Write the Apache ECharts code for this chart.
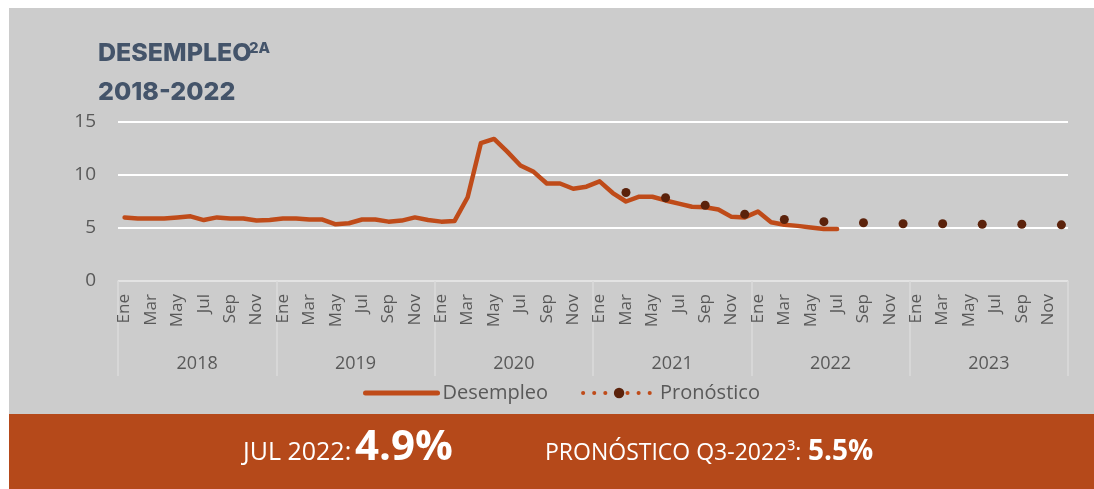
<!DOCTYPE html>
<html lang="es">
<head>
<meta charset="UTF-8">
<title>Desempleo</title>
<script src="https://cdn.jsdelivr.net/npm/echarts@6/dist/echarts.min.js"></script>
<style>
    html, body { margin: 0; padding: 0; background: #fff; }
    #grafica { position: absolute; left: 9px; top: 8px; width: 1085px; height: 481px; }
</style>
</head>
<body>
<div id="grafica"></div>
<script>
    // ejes
    const meses = ['Ene', 'Feb', 'Mar', 'Abr', 'May', 'Jun', 'Jul', 'Ago', 'Sep', 'Oct', 'Nov', 'Dic'];
    const anios = ['2018', '2019', '2020', '2021', '2022', '2023'];

    // tasa de desempleo mensual (%), ene 2018 - jul 2022
    const desempleo = [
        6.0, 5.9, 5.9, 5.9, 6.0, 6.1, 5.75, 6.0, 5.9, 5.9, 5.7, 5.75,
        5.9, 5.9, 5.8, 5.8, 5.35, 5.45, 5.8, 5.8, 5.6, 5.7, 6.0, 5.75,
        5.6, 5.65, 7.9, 13.0, 13.4, 12.2, 10.9, 10.3, 9.2, 9.2, 8.7, 8.9,
        9.4, 8.3, 7.5, 7.95, 7.95, 7.6, 7.3, 7.0, 6.95, 6.75, 6.05, 6.0,
        6.55, 5.55, 5.3, 5.2, 5.05, 4.9, 4.9
    ];

    // pronóstico trimestral
    const pronosticoFechas = ['Mar-2021', 'Jun-2021', 'Sep-2021', 'Dic-2021', 'Mar-2022', 'Jun-2022',
        'Sep-2022', 'Dic-2022', 'Mar-2023', 'Jun-2023', 'Sep-2023', 'Dic-2023'];
    const pronosticoValores = [8.35, 7.85, 7.15, 6.3, 5.8, 5.6, 5.5, 5.4, 5.4, 5.35, 5.35, 5.3];

    const categorias = [];
    anios.forEach(a => meses.forEach(m => categorias.push(m + '-' + a)));

    const serieDesempleo = categorias.map((c, i) => i < desempleo.length ? desempleo[i] : null);
    const seriePronostico = categorias.map(c => {
        const k = pronosticoFechas.indexOf(c);
        return k >= 0 ? pronosticoValores[k] : null;
    });

    const naranja = '#bf4b19';
    const cafe = '#5b220b';
    const gris = '#595959';
    const fuente = '"Open Sans", sans-serif';
    const titulo = '#44546a';

    const grafica = echarts.init(document.getElementById('grafica'));

    // textos de la franja inferior (línea base común)
    const base = 452;
    function texto(x, tam, negrita, t) {
        return {
            type: 'text', x: x, y: base - 0.285 * tam,
            style: {
                text: t, fill: '#fff', fontSize: tam, fontFamily: fuente,
                fontWeight: negrita ? 'bold' : 'normal',
                align: 'left', verticalAlign: 'middle'
            }
        };
    }

    const opciones = {
        backgroundColor: '#cccccc',
        animation: false,
        grid: { left: 109, right: 26, top: 114, bottom: 208 },
        legend: {
            left: 349,
            top: 370,
            itemWidth: 72,
            itemHeight: 13,
            itemGap: 33,
            textStyle: { color: gris, fontSize: 20, fontFamily: fuente },
            data: [
                { name: 'Desempleo', itemStyle: { opacity: 0 }, lineStyle: { width: 5, cap: 'round' } },
                { name: 'Pronóstico', lineStyle: { width: 4, type: [0.1, 11], cap: 'round' } }
            ]
        },
        xAxis: [{
            type: 'category',
            data: categorias,
            axisLine: { lineStyle: { color: '#dadada', width: 1.5 } },
            axisTick: { show: false },
            axisLabel: {
                interval: 1,
                rotate: 90,
                margin: 13,
                color: gris,
                fontSize: 17,
                fontFamily: fuente,
                formatter: v => v.split('-')[0]
            }
        }, {
            type: 'category',
            data: anios,
            position: 'bottom',
            axisLine: { show: false },
            axisTick: { show: true, length: 95, lineStyle: { color: '#dadada', width: 1.5 } },
            axisLabel: { margin: 74, color: gris, fontSize: 18, fontFamily: fuente }
        }],
        yAxis: {
            type: 'value',
            min: 0,
            max: 15,
            interval: 5,
            axisLine: { show: false },
            axisTick: { show: false },
            axisLabel: { margin: 22, color: gris, fontSize: 19, fontFamily: fuente },
            splitLine: { lineStyle: { color: '#ffffff', width: 2 } }
        },
        series: [{
            name: 'Desempleo',
            type: 'line',
            data: serieDesempleo,
            symbol: 'none',
            color: naranja,
            lineStyle: { width: 4.5, color: naranja, cap: 'round', join: 'round' }
        }, {
            name: 'Pronóstico',
            type: 'line',
            data: seriePronostico,
            symbol: 'circle',
            symbolSize: 9,
            showAllSymbol: true,
            connectNulls: false,
            color: naranja,
            itemStyle: { color: cafe },
            lineStyle: { width: 4, color: naranja, type: [0.1, 11], cap: 'round' }
        }],
        graphic: [
            { type: 'text', left: 89, top: 33, style: { text: 'DESEMPLEO', fill: titulo, font: '800 25px Inter, sans-serif' } },
            { type: 'text', left: 240, top: 33, style: { text: '2A', fill: titulo, font: '800 15px Inter, sans-serif' } },
            { type: 'text', left: 89, top: 72, style: { text: '2018-2022', fill: titulo, font: '800 25px Inter, sans-serif' } },
            { type: 'rect', left: 0, top: 406, shape: { width: 1085, height: 75 }, style: { fill: '#b5491a' } },
            texto(234, 25, false, 'JUL 2022:'),
            texto(346, 42, true, '4.9%'),
            texto(536, 23, false, 'PRONÓSTICO Q3-2022³:'),
            texto(799, 28, true, '5.5%')
        ]
    };

    grafica.setOption(opciones);
</script>
</body>
</html>
